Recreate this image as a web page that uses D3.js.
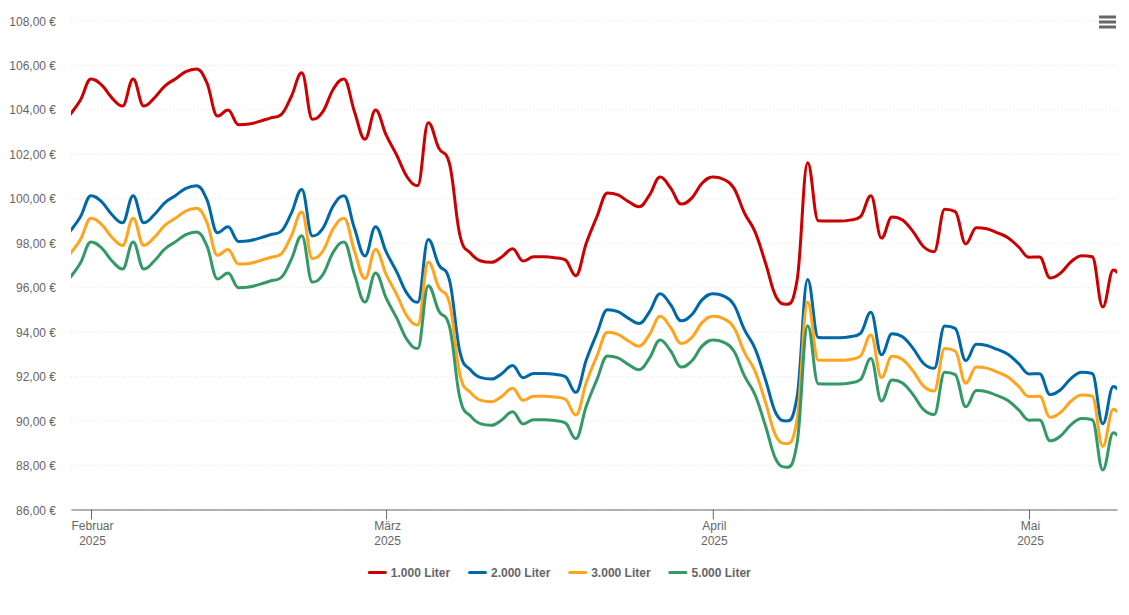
<!DOCTYPE html>
<html>
<head>
  <meta charset="utf-8">
  <title>Heizölpreise</title>
  <script src="https://d3js.org/d3.v7.min.js"></script>
  <style>
    body { margin: 0; background: #fff; }
    text { font-family: "Liberation Sans", Arial, sans-serif; font-size: 12px; fill: #666; }
  </style>
</head>
<body>
  <svg id="grafico"></svg>

  <script>
    const monate = ["Februar", "März", "April", "Mai"];
    const monatTicks = [Date.UTC(2025, 1, 1), Date.UTC(2025, 2, 1), Date.UTC(2025, 3, 1), Date.UTC(2025, 4, 1)];
    const yTicks = [86, 88, 90, 92, 94, 96, 98, 100, 102, 104, 106, 108];
    const namen = ["1.000 Liter", "2.000 Liter", "3.000 Liter", "5.000 Liter"];
    const farben = ["#cc0000", "#0068a8", "#ffa41c", "#339966"];

    // one value per day, 30 Jan to 10 May 2025
    const tage = d3.utcDay.range(Date.UTC(2025, 0, 30), Date.UTC(2025, 4, 11));

    const liter1000 = [
      103.75,104.42,105.37,105.10,104.51,104.15,105.37,104.15,104.51,105.05,
      105.37,105.70,105.82,105.19,103.70,103.97,103.31,103.34,103.46,103.61,
      103.75,104.57,105.65,103.56,103.90,104.92,105.37,103.90,102.66,103.97,
      102.85,101.95,100.96,100.57,103.40,102.26,101.59,98.35,97.54,97.18,
      97.12,97.37,97.73,97.18,97.37,97.37,97.33,97.23,96.52,97.99,
      99.17,100.24,100.15,99.85,99.62,100.15,100.96,100.46,99.74,100.01,
      100.69,100.96,100.86,100.46,99.34,98.50,97.09,95.57,95.23,96.33,
      101.60,98.99,98.98,98.98,99.02,99.17,100.12,98.21,99.16,99.02,
      98.50,97.82,97.60,99.51,99.40,97.95,98.68,98.63,98.45,98.23,
      97.82,97.35,97.36,96.42,96.64,97.15,97.42,97.37,95.11,96.78,96.33
    ];
    const liter2000 = [
      98.50,99.17,100.12,99.85,99.26,98.90,100.12,98.90,99.26,99.80,
      100.12,100.45,100.57,99.94,98.45,98.72,98.06,98.09,98.21,98.36,
      98.50,99.32,100.40,98.31,98.65,99.67,100.12,98.65,97.41,98.72,
      97.60,96.70,95.71,95.32,98.15,97.01,96.34,93.10,92.29,91.93,
      91.87,92.12,92.48,91.93,92.12,92.12,92.08,91.98,91.27,92.74,
      93.92,94.99,94.90,94.60,94.37,94.90,95.71,95.21,94.49,94.76,
      95.44,95.71,95.61,95.21,94.09,93.25,91.84,90.32,89.98,91.08,
      96.35,93.74,93.73,93.73,93.77,93.92,94.87,92.96,93.91,93.77,
      93.25,92.57,92.35,94.26,94.15,92.70,93.43,93.38,93.20,92.98,
      92.57,92.10,92.11,91.17,91.39,91.90,92.17,92.12,89.86,91.53,91.08
    ];
    const liter3000 = [
      97.48,98.15,99.10,98.83,98.24,97.88,99.10,97.88,98.24,98.78,
      99.10,99.43,99.55,98.92,97.43,97.70,97.04,97.07,97.19,97.34,
      97.48,98.30,99.38,97.29,97.63,98.65,99.10,97.63,96.39,97.70,
      96.58,95.68,94.69,94.30,97.13,95.99,95.32,92.08,91.27,90.91,
      90.85,91.10,91.46,90.91,91.10,91.10,91.06,90.96,90.25,91.72,
      92.90,93.97,93.88,93.58,93.35,93.88,94.69,94.19,93.47,93.74,
      94.42,94.69,94.59,94.19,93.07,92.23,90.82,89.30,88.96,90.06,
      95.33,92.72,92.71,92.71,92.75,92.90,93.85,91.94,92.89,92.75,
      92.23,91.55,91.33,93.24,93.13,91.68,92.41,92.36,92.18,91.96,
      91.55,91.08,91.09,90.15,90.37,90.88,91.15,91.10,88.84,90.51,90.06
    ];
    const liter5000 = [
      96.42,97.09,98.04,97.77,97.18,96.82,98.04,96.82,97.18,97.72,
      98.04,98.37,98.49,97.86,96.37,96.64,95.98,96.01,96.13,96.28,
      96.42,97.24,98.32,96.23,96.57,97.59,98.04,96.57,95.33,96.64,
      95.52,94.62,93.63,93.24,96.07,94.93,94.26,91.02,90.21,89.85,
      89.79,90.04,90.40,89.85,90.04,90.04,90.00,89.90,89.19,90.66,
      91.84,92.91,92.82,92.52,92.29,92.82,93.63,93.13,92.41,92.68,
      93.36,93.63,93.53,93.13,92.01,91.17,89.76,88.24,87.90,89.00,
      94.27,91.66,91.65,91.65,91.69,91.84,92.79,90.88,91.83,91.69,
      91.17,90.49,90.27,92.18,92.07,90.62,91.35,91.30,91.12,90.90,
      90.49,90.02,90.03,89.09,89.31,89.82,90.09,90.04,87.78,89.45,89.00
    ];
    const reihen = [liter1000, liter2000, liter3000, liter5000];

    const links = 71, rechts = 1117, oben = 20.5, unten = 509.5;

    // spline with control points at 0.4 of each segment, clamped so peaks stay on the points
    function glatteKurve(context) {
      let punkte;
      return {
        areaStart() {},
        areaEnd() {},
        lineStart() { punkte = []; },
        point(px, py) { punkte.push([+px, +py]); },
        lineEnd() {
          const n = punkte.length;
          const kontrolle = punkte.map((p, i) => {
            const a = punkte[Math.max(i - 1, 0)], b = punkte[Math.min(i + 1, n - 1)];
            const lx = (1.5 * p[0] + a[0]) / 2.5, rx = (1.5 * p[0] + b[0]) / 2.5;
            let ly = (1.5 * p[1] + a[1]) / 2.5, ry = (1.5 * p[1] + b[1]) / 2.5;
            if (rx !== lx) {
              const k = (ry - ly) * (rx - p[0]) / (rx - lx) + p[1] - ry;
              ly += k;
              ry += k;
            }
            if (ly > a[1] && ly > p[1]) { ly = Math.max(a[1], p[1]); ry = 2 * p[1] - ly; }
            else if (ly < a[1] && ly < p[1]) { ly = Math.min(a[1], p[1]); ry = 2 * p[1] - ly; }
            if (ry > b[1] && ry > p[1]) { ry = Math.max(b[1], p[1]); ly = 2 * p[1] - ry; }
            else if (ry < b[1] && ry < p[1]) { ry = Math.min(b[1], p[1]); ly = 2 * p[1] - ry; }
            return { lx, ly, rx, ry };
          });
          context.moveTo(punkte[0][0], punkte[0][1]);
          for (let i = 1; i < n; i++) {
            context.bezierCurveTo(kontrolle[i - 1].rx, kontrolle[i - 1].ry,
              kontrolle[i].lx, kontrolle[i].ly, punkte[i][0], punkte[i][1]);
          }
        }
      };
    }

    const svg = d3.select("#grafico")
      .attr("width", 1129)
      .attr("height", 615)
      .style("display", "block");

    const x = d3.scaleUtc()
      .domain([Date.UTC(2025, 0, 30, 2, 30), Date.UTC(2025, 4, 9, 8, 24)])
      .range([links, rechts]);

    const y = d3.scaleLinear()
      .domain([86, 108])
      .range([unten, oben]);

    // grid and y labels
    const yAchse = svg.append("g")
      .attr("transform", `translate(${links},0)`)
      .call(d3.axisLeft(y)
        .tickValues(yTicks)
        .tickSize(-(rechts - links))
        .tickPadding(15)
        .tickFormat(d => d.toFixed(2).replace(".", ",") + " €"));
    yAchse.select(".domain").remove();
    yAchse.selectAll("line")
      .attr("stroke", "#e6e6e6")
      .attr("stroke-dasharray", "1,2");
    yAchse.selectAll("text").attr("dy", "0.38em");

    const xAchse = svg.append("g")
      .attr("transform", `translate(0,${unten})`)
      .call(d3.axisBottom(x)
        .tickValues(monatTicks.map(d => new Date(d)))
        .tickSize(10)
        .tickSizeOuter(0)
        .tickFormat(""));
    xAchse.select(".domain").attr("stroke", "#666");
    xAchse.selectAll("line").attr("stroke", "#666");
    xAchse.selectAll(".tick text")
      .data(monate)
      .attr("y", 0)
      .attr("dy", 0)
      .each(function (d) {
        const t = d3.select(this);
        t.append("tspan").attr("x", 1).attr("y", 20.5).text(d);
        t.append("tspan").attr("x", 1).attr("y", 35.5).text("2025");
      });

    svg.append("clipPath").attr("id", "plotflaeche")
      .append("rect")
      .attr("x", links)
      .attr("y", 0)
      .attr("width", rechts - links)
      .attr("height", 615);

    const linie = d3.line()
      .x((d, i) => x(tage[i]))
      .y(d => y(d))
      .curve(glatteKurve);

    svg.append("g")
      .attr("clip-path", "url(#plotflaeche)")
      .selectAll("path")
      .data(reihen)
      .join("path")
      .attr("d", linie)
      .attr("fill", "none")
      .attr("stroke", (d, i) => farben[i])
      .attr("stroke-width", 3)
      .attr("stroke-linejoin", "round");

    // legend
    const legende = svg.append("g")
      .selectAll("g")
      .data(namen)
      .join("g")
      .attr("transform", (d, i) => `translate(${369.3 + i * 100.2},572.5)`);
    legende.append("line")
      .attr("x2", 16)
      .attr("stroke", (d, i) => farben[i])
      .attr("stroke-width", 3)
      .attr("stroke-linecap", "round");
    legende.append("text")
      .attr("x", 21.5)
      .attr("y", 4.5)
      .style("font-weight", "bold")
      .text(d => d);

    // menu button
    svg.append("g")
      .selectAll("rect")
      .data([15.5, 20.5, 25.5])
      .join("rect")
      .attr("x", 1099)
      .attr("y", d => d)
      .attr("width", 17)
      .attr("height", 3)
      .attr("fill", "#666");
  </script>
</body>
</html>
